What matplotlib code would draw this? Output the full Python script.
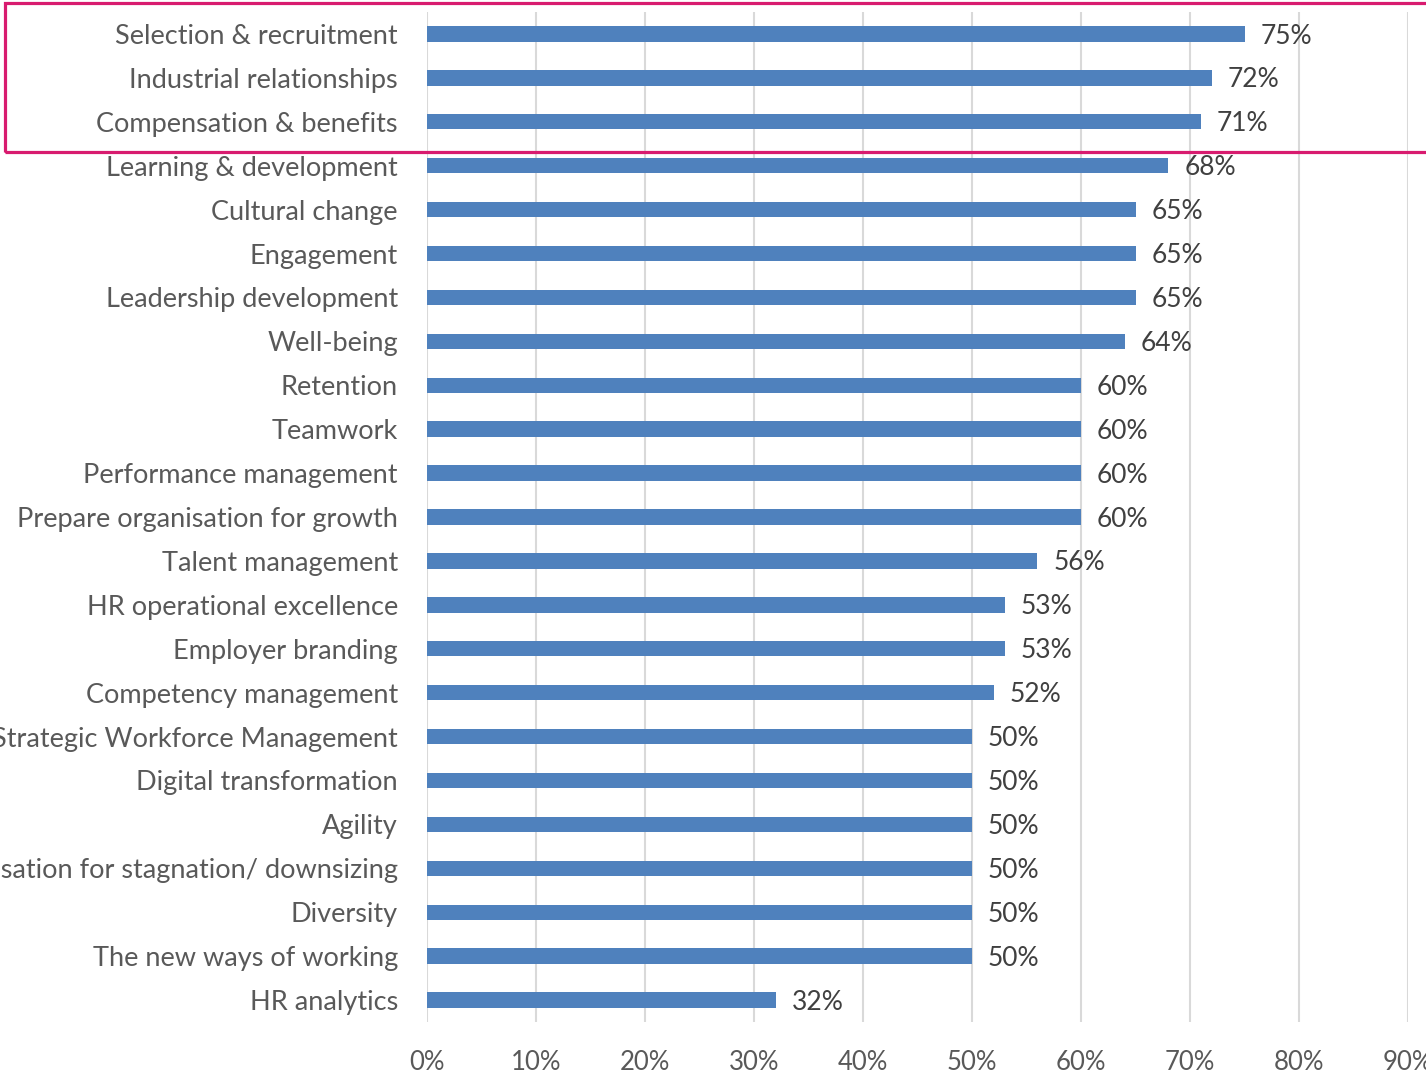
import matplotlib
matplotlib.use("Agg")
import matplotlib.pyplot as plt
from matplotlib.patches import Rectangle
from matplotlib.ticker import FuncFormatter

categories = [
    "Selection & recruitment", "Industrial relationships", "Compensation & benefits",
    "Learning & development", "Cultural change", "Engagement", "Leadership development",
    "Well-being", "Retention", "Teamwork", "Performance management",
    "Prepare organisation for growth", "Talent management", "HR operational excellence",
    "Employer branding", "Competency management", "Strategic Workforce Management",
    "Digital transformation", "Agility", "Prepare organisation for stagnation/ downsizing",
    "Diversity", "The new ways of working", "HR analytics",
]
values = [75, 72, 71, 68, 65, 65, 65, 64, 60, 60, 60, 60, 56, 53, 53, 52, 50, 50, 50, 50, 50, 50, 32]
xticks = [0, 10, 20, 30, 40, 50, 60, 70, 80, 90]

plt.rcParams['font.family'] = ['Lato', 'DejaVu Sans']
text_col = "#595959"

fig = plt.figure(figsize=(14.26, 10.72), dpi=100)
ax = fig.add_axes([427/1426, 1 - 1022/1072, (1408 - 427)/1426, (1022 - 12)/1072])

ypos = list(range(len(categories)))
ax.barh(ypos, values, height=0.35, color="#4f81bd", zorder=3)
for y, v in zip(ypos, values):
    ax.annotate(f"{v}%", (v, y), xytext=(11.5, -1.5), textcoords="offset points",
                va="center", ha="left", fontsize=19, color="#404040")

ax.set_xlim(0, 90)
ax.set_ylim(len(categories) - 0.5, -0.5)
ax.set_xticks(xticks)
ax.xaxis.set_major_formatter(FuncFormatter(lambda x, p: f"{int(x)}%"))
ax.set_yticks(ypos)
ax.set_yticklabels(categories)
ax.tick_params(axis="y", length=0, pad=21, labelsize=19.5, labelcolor=text_col)
ax.tick_params(axis="x", length=0, pad=20, labelsize=18.5, labelcolor=text_col)
ax.grid(axis="x", color="#d9d9d9", linewidth=1.5, zorder=0)
for s in ax.spines.values():
    s.set_visible(False)

rect = Rectangle((5/1426, 1 - 152/1072), 1.0, (152 - 3)/1072, transform=fig.transFigure,
                 fill=False, edgecolor="#d81b6f", linewidth=2.3, clip_on=False)
fig.patches.append(rect)

fig.savefig("out.png", dpi=100)
